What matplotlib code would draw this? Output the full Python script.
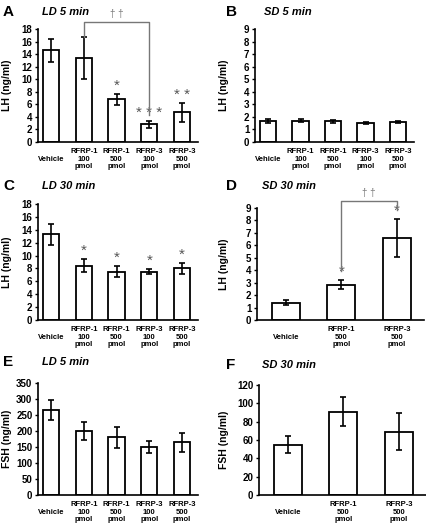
import matplotlib
matplotlib.use("Agg")
import matplotlib.pyplot as plt
import numpy as np

plt.rcParams['font.family'] = ['Liberation Sans', 'DejaVu Sans']
plt.rcParams['font.weight'] = 'bold'

W, H = 427, 528

cats5 = ["Vehicle", "RFRP-1\n100\npmol", "RFRP-1\n500\npmol", "RFRP-3\n100\npmol", "RFRP-3\n500\npmol"]
cats3 = ["Vehicle", "RFRP-1\n500\npmol", "RFRP-3\n500\npmol"]

a_mean = [14.6, 13.4, 6.8, 2.8, 4.7]
a_err = [1.8, 3.3, 0.9, 0.5, 1.5]
a_stars = ["", "", "*", "* * *", "* *"]

b_mean = [1.7, 1.7, 1.65, 1.55, 1.6]
b_err = [0.15, 0.1, 0.12, 0.08, 0.05]
b_stars = ["", "", "", "", ""]

c_mean = [13.3, 8.4, 7.5, 7.5, 8.0]
c_err = [1.6, 1.0, 0.9, 0.4, 0.8]
c_stars = ["", "*", "*", "*", "*"]

d_mean = [1.4, 2.85, 6.6]
d_err = [0.2, 0.35, 1.55]
d_stars = ["", "*", "*"]

e_mean = [265, 200, 180, 150, 165]
e_err = [32, 27, 33, 20, 30]
e_stars = ["", "", "", "", ""]

f_mean = [55, 91, 69]
f_err = [9, 16, 20]
f_stars = ["", "", ""]

fig = plt.figure(figsize=(W / 100, H / 100), dpi=100)


def rect(l, t, r, b):
    return [l / W, 1 - b / H, (r - l) / W, (b - t) / H]


def panel(r, cats, mean, err, stars, ymax, step, ylabel, xlim, star_off, label_x, star_fs=11):
    ax = fig.add_axes(rect(*r))
    x = np.arange(len(cats))
    ax.bar(x, mean, width=0.5, color='white', edgecolor='black', linewidth=1.3, zorder=2)
    ax.errorbar(x, mean, yerr=err, fmt='none', ecolor='black', elinewidth=1.2,
                capsize=2.5, capthick=1.2, zorder=3)
    for xi, m, e, s in zip(x, mean, err, stars):
        if s:
            ax.text(xi, m + e + star_off, s, ha='center', va='center', fontsize=star_fs,
                    color='#555555', fontweight='normal')
    ax.set_xlim(*xlim)
    ax.set_ylim(0, ymax)
    ax.set_yticks(np.arange(0, ymax + step / 2, step))
    ax.set_xticks(x)
    labs = [c if "\n" in c else "\n" + c for c in cats]
    ax.set_xticklabels(labs, fontsize=5.5, fontweight='bold', linespacing=1.12)
    ax.tick_params(axis='x', length=0, pad=4.5)
    ax.tick_params(axis='y', length=2.5, width=1, labelsize=7, pad=1.5)
    for lab in ax.get_yticklabels():
        lab.set_fontweight('bold')
    for s in ['top', 'right']:
        ax.spines[s].set_visible(False)
    for s in ['left', 'bottom']:
        ax.spines[s].set_linewidth(1.2)
    ax.set_ylabel(ylabel, fontsize=7.5, fontweight='bold')
    ax.yaxis.set_label_coords((label_x - r[0]) / (r[2] - r[0]), 0.5)
    return ax


x5 = (-0.4, 4.49)
x3 = (-0.52, 2.49)
axA = panel((38, 29, 198, 142), cats5, a_mean, a_err, a_stars, 18, 2, "LH (ng/ml)", x5, 1.3, 12)
axB = panel((255, 29, 414, 142), cats5, b_mean, b_err, b_stars, 9, 1, "LH (ng/ml)", x5, 0.5, 229)
axC = panel((38, 204, 198, 320), cats5, c_mean, c_err, c_stars, 18, 2, "LH (ng/ml)", x5, 1.3, 12)
axD = panel((257, 208, 424, 320), cats3, d_mean, d_err, d_stars, 9, 1, "LH (ng/ml)", x3, 0.65, 229)
axE = panel((38, 383, 198, 495), cats5, e_mean, e_err, e_stars, 350, 50, "FSH (ng/ml)", x5, 20, 12)
axF = panel((259, 385, 426, 495), cats3, f_mean, f_err, f_stars, 120, 20, "FSH (ng/ml)", x3, 5, 229)

# brackets
gray = '#777777'
axA.plot([1, 1, 3, 3], [a_mean[1] + a_err[1], 19.1, 19.1, 4.3], color=gray, lw=1, clip_on=False, zorder=4)
axA.text(2, 20.4, "\u2020 \u2020", ha='center', va='center', fontsize=7, color=gray, fontweight='normal')
axD.plot([1, 1, 2, 2], [3.95, 9.55, 9.55, 8.8], color=gray, lw=1, clip_on=False, zorder=4)
axD.text(1.5, 10.2, "\u2020 \u2020", ha='center', va='center', fontsize=7, color=gray, fontweight='normal')

# letters & titles
letters = [("A", 3, 12, 42, 12, "LD 5 min"),
           ("B", 226, 12, 264, 12, "SD 5 min"),
           ("C", 3, 186, 42, 186, "LD 30 min"),
           ("D", 226, 186, 262, 186, "SD 30 min"),
           ("E", 3, 362, 42, 362, "LD 5 min"),
           ("F", 226, 365, 262, 365, "SD 30 min")]
for L, lx, ly, tx, ty, T in letters:
    fig.text(lx / W, 1 - ly / H, L, fontsize=11, fontweight='bold', va='center', ha='left')
    fig.text(tx / W, 1 - ty / H, T, fontsize=8, fontweight='bold', style='italic', va='center', ha='left')

fig.savefig("out.png", dpi=100)
